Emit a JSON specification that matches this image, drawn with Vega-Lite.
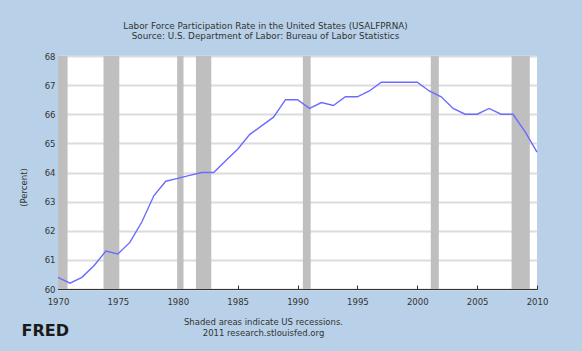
{
  "$schema": "https://vega.github.io/schema/vega-lite/v6.json",
  "width": 479,
  "height": 233,
  "autosize": {"type": "none"},
  "padding": {"left": 58, "top": 56, "right": 45, "bottom": 62},
  "background": "#b8d1e8",
  "title": {
    "text": "Labor Force Participation Rate in the United States (USALFPRNA)",
    "subtitle": "Source: U.S. Department of Labor: Bureau of Labor Statistics",
    "anchor": "middle",
    "frame": "group",
    "dx": -32,
    "offset": 11,
    "font": "DejaVu Sans",
    "fontSize": 8.8,
    "fontWeight": "normal",
    "color": "#333333",
    "subtitleFont": "DejaVu Sans",
    "subtitleFontSize": 8.8,
    "subtitleColor": "#333333",
    "subtitlePadding": 1
  },
  "config": {
    "view": {"fill": "white", "stroke": null},
    "axis": {
      "labelFont": "DejaVu Sans",
      "labelFontSize": 8.5,
      "labelColor": "#333333",
      "titleFont": "DejaVu Sans",
      "titleColor": "#333333",
      "domainColor": "#333333",
      "tickColor": "#333333"
    }
  },
  "datasets": {
    "recessions": [
      {"start": 1969.92, "end": 1970.8},
      {"start": 1973.8, "end": 1975.12},
      {"start": 1979.95, "end": 1980.48},
      {"start": 1981.52, "end": 1982.8},
      {"start": 1990.45, "end": 1991.1},
      {"start": 2001.13, "end": 2001.8},
      {"start": 2007.88, "end": 2009.4}
    ],
    "lfpr": [
      {"year": 1970, "rate": 60.4},
      {"year": 1971, "rate": 60.2},
      {"year": 1972, "rate": 60.4},
      {"year": 1973, "rate": 60.8},
      {"year": 1974, "rate": 61.3},
      {"year": 1975, "rate": 61.2},
      {"year": 1976, "rate": 61.6},
      {"year": 1977, "rate": 62.3},
      {"year": 1978, "rate": 63.2},
      {"year": 1979, "rate": 63.7},
      {"year": 1980, "rate": 63.8},
      {"year": 1981, "rate": 63.9},
      {"year": 1982, "rate": 64.0},
      {"year": 1983, "rate": 64.0},
      {"year": 1984, "rate": 64.4},
      {"year": 1985, "rate": 64.8},
      {"year": 1986, "rate": 65.3},
      {"year": 1987, "rate": 65.6},
      {"year": 1988, "rate": 65.9},
      {"year": 1989, "rate": 66.5},
      {"year": 1990, "rate": 66.5},
      {"year": 1991, "rate": 66.2},
      {"year": 1992, "rate": 66.4},
      {"year": 1993, "rate": 66.3},
      {"year": 1994, "rate": 66.6},
      {"year": 1995, "rate": 66.6},
      {"year": 1996, "rate": 66.8},
      {"year": 1997, "rate": 67.1},
      {"year": 1998, "rate": 67.1},
      {"year": 1999, "rate": 67.1},
      {"year": 2000, "rate": 67.1},
      {"year": 2001, "rate": 66.8},
      {"year": 2002, "rate": 66.6},
      {"year": 2003, "rate": 66.2},
      {"year": 2004, "rate": 66.0},
      {"year": 2005, "rate": 66.0},
      {"year": 2006, "rate": 66.2},
      {"year": 2007, "rate": 66.0},
      {"year": 2008, "rate": 66.0},
      {"year": 2009, "rate": 65.4},
      {"year": 2010, "rate": 64.7}
    ]
  },
  "layer": [
    {
      "data": {"name": "recessions"},
      "mark": {"type": "rect", "color": "#bfbfbf", "clip": true},
      "encoding": {
        "x": {
          "field": "start",
          "type": "quantitative",
          "scale": {"domain": [1970, 2010], "nice": false, "zero": false},
          "axis": {
            "orient": "bottom",
            "title": "FRED",
            "labels": false,
            "ticks": false,
            "domain": false,
            "grid": false,
            "titleFont": "DejaVu Sans",
            "titleFontSize": 16,
            "titleFontWeight": "bold",
            "titleColor": "#1a1a1a",
            "titleAlign": "left",
            "titleAnchor": "start",
            "titleBaseline": "alphabetic",
            "titleX": -37,
            "titleY": 46
          }
        },
        "x2": {"field": "end"}
      }
    },
    {
      "data": {"name": "lfpr"},
      "mark": {"type": "line", "color": "#6b6bff", "strokeWidth": 1.4},
      "encoding": {
        "x": {
          "field": "year",
          "type": "quantitative",
          "axis": {
            "orient": "bottom",
            "values": [1970, 1975, 1980, 1985, 1990, 1995, 2000, 2005, 2010],
            "format": "d",
            "grid": false,
            "tickSize": -4,
            "labelPadding": 12,
            "labelFlush": false,
            "title": ["Shaded areas indicate US recessions.", "2011 research.stlouisfed.org"],
            "titleFontSize": 8.5,
            "titleFontWeight": "normal",
            "titleLineHeight": 11,
            "titleAlign": "center",
            "titleAnchor": "start",
            "titleBaseline": "alphabetic",
            "titleX": 205,
            "titleY": 35
          }
        },
        "y": {
          "field": "rate",
          "type": "quantitative",
          "scale": {"domain": [60, 68], "nice": false, "zero": false},
          "axis": {
            "values": [60, 61, 62, 63, 64, 65, 66, 67, 68],
            "grid": true,
            "gridColor": "#dcdcdc",
            "gridWidth": 2,
            "tickSize": -4,
            "labelPadding": 7,
            "title": "(Percent)",
            "titleFontSize": 8.5,
            "titleFontWeight": "normal",
            "titleX": -30,
            "titleY": 131,
            "titleAnchor": "start",
            "titleAlign": "center"
          }
        }
      }
    }
  ],
  "resolve": {"axis": {"x": "independent"}}
}
